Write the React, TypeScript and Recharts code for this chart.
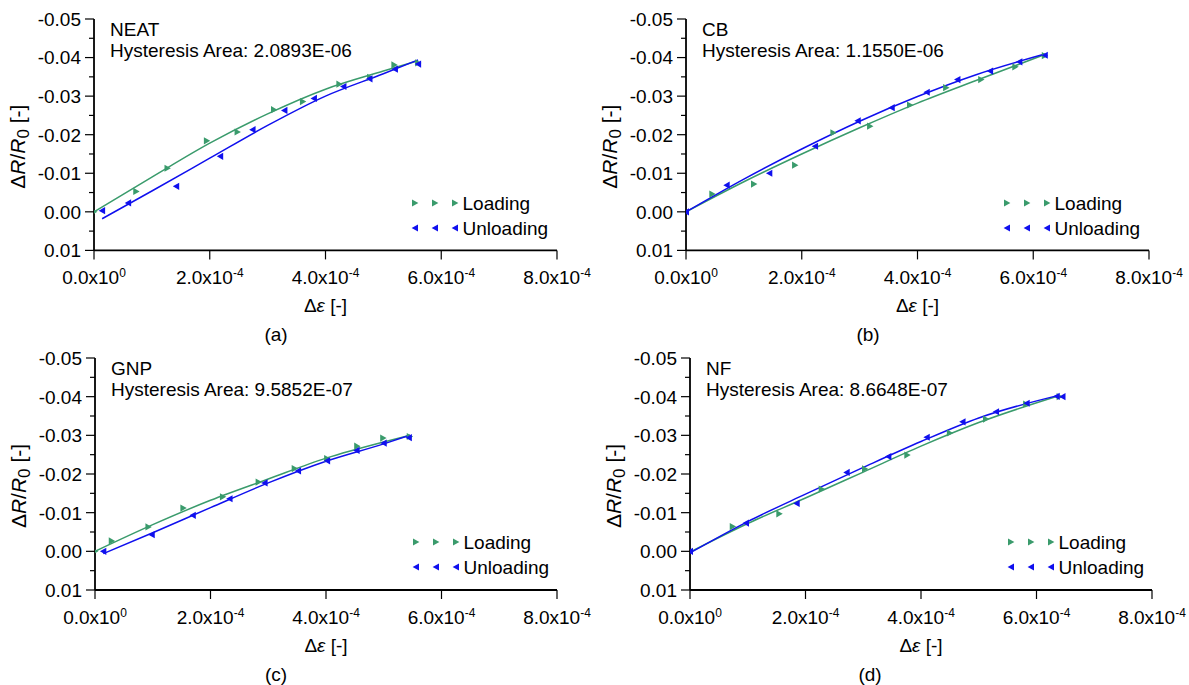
import React from 'react'
import { ComposedChart, Scatter, XAxis, YAxis, Legend } from 'recharts'

type Pt = [number, number]

const GREEN = '#3a9b6c'
const BLUE = '#1010ee'
const FONT = 'Arial, "Liberation Sans", sans-serif'

const xTicks = [0, 2e-4, 4e-4, 6e-4, 8e-4]
const yTicks = [-0.05, -0.045, -0.04, -0.035, -0.03, -0.025, -0.02, -0.015, -0.01, -0.005, 0, 0.005, 0.01]

// NEAT
const neatLoading: Pt[] = [[0, 0], [0.73e-4, -0.0053], [1.27e-4, -0.0113], [1.95e-4, -0.0184], [2.48e-4, -0.0207], [3.11e-4, -0.0265], [3.61e-4, -0.0286], [4.24e-4, -0.0331], [4.77e-4, -0.0349], [5.19e-4, -0.0381], [5.6e-4, -0.0386]]
const neatUnloading: Pt[] = [[5.6e-4, -0.0383], [5.2e-4, -0.037], [4.76e-4, -0.0345], [4.31e-4, -0.0325], [3.8e-4, -0.0294], [3.29e-4, -0.0263], [2.74e-4, -0.0213], [2.18e-4, -0.0144], [1.42e-4, -0.0066], [0.59e-4, -0.0023], [0.14e-4, -0.0003]]
const neatLoadingFit: Pt[] = [[0, 0], [1e-4, -0.009], [2e-4, -0.0178], [3e-4, -0.0254], [4e-4, -0.0318], [5e-4, -0.0365], [5.6e-4, -0.0392]]
const neatUnloadingFit: Pt[] = [[0.14e-4, 0.0018], [1e-4, -0.0054], [2e-4, -0.0139], [3e-4, -0.0224], [4e-4, -0.03], [5e-4, -0.0358], [5.6e-4, -0.0394]]

// CB
const cbLoading: Pt[] = [[0, 0], [0.455e-4, -0.0046], [1.175e-4, -0.0072], [1.884e-4, -0.0121], [2.546e-4, -0.0205], [3.18e-4, -0.0222], [3.87e-4, -0.0277], [4.495e-4, -0.0322], [5.1e-4, -0.0343], [5.69e-4, -0.0376], [6.2e-4, -0.0405]]
const cbUnloading: Pt[] = [[6.2e-4, -0.0406], [5.76e-4, -0.0389], [5.255e-4, -0.0365], [4.69e-4, -0.0343], [4.16e-4, -0.031], [3.555e-4, -0.027], [2.968e-4, -0.0236], [2.23e-4, -0.017], [1.44e-4, -0.01], [0.703e-4, -0.0069], [0, 0]]
const cbLoadingFit: Pt[] = [[0, 0], [1e-4, -0.0078], [2e-4, -0.015], [3e-4, -0.0218], [4e-4, -0.0282], [5e-4, -0.034], [6.2e-4, -0.0408]]
const cbUnloadingFit: Pt[] = [[0, 0], [1e-4, -0.0085], [2e-4, -0.0163], [3e-4, -0.0235], [4e-4, -0.0299], [5e-4, -0.0355], [6.2e-4, -0.0409]]

// GNP
const gnpLoading: Pt[] = [[0, 0], [0.29e-4, -0.0027], [0.925e-4, -0.0063], [1.53e-4, -0.0112], [2.215e-4, -0.0141], [2.833e-4, -0.0179], [3.458e-4, -0.0214], [4.02e-4, -0.024], [4.54e-4, -0.0272], [4.99e-4, -0.0293], [5.45e-4, -0.0297]]
const gnpUnloading: Pt[] = [[5.435e-4, -0.0294], [5.0e-4, -0.028], [4.53e-4, -0.0261], [4.02e-4, -0.0234], [3.516e-4, -0.0208], [2.937e-4, -0.0177], [2.33e-4, -0.0136], [1.694e-4, -0.0093], [0.983e-4, -0.0043], [0.144e-4, 0]]
const gnpLoadingFit: Pt[] = [[0, 0], [1e-4, -0.0069], [2e-4, -0.0132], [3e-4, -0.0187], [4e-4, -0.0241], [5e-4, -0.0283], [5.45e-4, -0.03]]
const gnpUnloadingFit: Pt[] = [[0.144e-4, 0.0006], [1e-4, -0.0048], [2e-4, -0.0113], [3e-4, -0.0177], [4e-4, -0.0233], [5e-4, -0.0278], [5.45e-4, -0.03]]

// NF
const nfLoading: Pt[] = [[0, 0], [0.74e-4, -0.0064], [1.547e-4, -0.0097], [2.28e-4, -0.0161], [3.03e-4, -0.0213], [3.763e-4, -0.0249], [4.5e-4, -0.0306], [5.125e-4, -0.0342], [5.82e-4, -0.0381], [6.4e-4, -0.04]]
const nfUnloading: Pt[] = [[6.45e-4, -0.04], [6.35e-4, -0.0401], [5.83e-4, -0.0383], [5.3e-4, -0.0361], [4.72e-4, -0.0335], [4.1e-4, -0.0295], [3.435e-4, -0.0245], [2.713e-4, -0.0204], [1.847e-4, -0.0124], [0.97e-4, -0.0073], [0, 0]]
const nfLoadingFit: Pt[] = [[0, 0.0002], [1e-4, -0.0072], [2e-4, -0.0138], [3e-4, -0.0205], [4e-4, -0.0272], [5e-4, -0.0333], [6.4e-4, -0.0403]]
const nfUnloadingFit: Pt[] = [[0, 0.0004], [1e-4, -0.0077], [2e-4, -0.0148], [3e-4, -0.0217], [4e-4, -0.0284], [5e-4, -0.0345], [6.4e-4, -0.0404]]

type PanelSpec = {
  x: number; y: number; w: number; h: number
  name: string; area: string; caption: string; captionX: number
  loading: Pt[]; unloading: Pt[]; loadingFit: Pt[]; unloadingFit: Pt[]
}

const panels: PanelSpec[] = [
  { x: 94, y: 19.3, w: 463, h: 231.4, name: 'NEAT', area: '2.0893E-06', caption: '(a)', captionX: 276,
    loading: neatLoading, unloading: neatUnloading, loadingFit: neatLoadingFit, unloadingFit: neatUnloadingFit },
  { x: 686, y: 19.3, w: 463, h: 231.4, name: 'CB', area: '1.1550E-06', caption: '(b)', captionX: 868,
    loading: cbLoading, unloading: cbUnloading, loadingFit: cbLoadingFit, unloadingFit: cbUnloadingFit },
  { x: 95, y: 357.7, w: 462, h: 232, name: 'GNP', area: '9.5852E-07', caption: '(c)', captionX: 276,
    loading: gnpLoading, unloading: gnpUnloading, loadingFit: gnpLoadingFit, unloadingFit: gnpUnloadingFit },
  { x: 690, y: 357.7, w: 462, h: 232, name: 'NF', area: '8.6648E-07', caption: '(d)', captionX: 870,
    loading: nfLoading, unloading: nfUnloading, loadingFit: nfLoadingFit, unloadingFit: nfUnloadingFit },
]

const toPoints = (pts: Pt[]) => pts.map(([x, y]) => ({ x, y }))

// small triangle marker, pointing right for loading and left for unloading
const Tri = ({ cx, cy, dir, fill }: any) => {
  const d = dir === 'right'
    ? `M${cx - 3},${cy - 3.6}L${cx + 3.4},${cy}L${cx - 3},${cy + 3.6}Z`
    : `M${cx + 3},${cy - 3.6}L${cx - 3.4},${cy}L${cx + 3},${cy + 3.6}Z`
  return <path d={d} fill={fill} />
}

const ML = 100
const MT = 20
const MR = 50
const MB = 80

const YTick = (props: any) => {
  const { y, payload } = props
  const v = payload.value
  const major = Math.abs(Math.round(v * 1000)) % 10 === 0
  return (
    <g>
      <line x1={ML - (major ? 9 : 5)} x2={ML} y1={y} y2={y} stroke="#000" strokeWidth={1.2} />
      {major && (
        <text x={ML - 13} y={y} dy="0.36em" textAnchor="end" fontFamily={FONT} fontSize={19} fill="#000">
          {v.toFixed(2)}
        </text>
      )}
    </g>
  )
}

const XTick = (props: any) => {
  const { x, payload, axisY } = props
  const v = payload.value
  const mant = v === 0 ? '0.0' : (v / 1e-4).toFixed(1)
  const exp = v === 0 ? '0' : '-4'
  return (
    <g>
      <line x1={x} x2={x} y1={axisY} y2={axisY + 9} stroke="#000" strokeWidth={1.2} />
      <text x={x} y={axisY + 34} textAnchor="middle" fontFamily={FONT} fontSize={19} fill="#000">
        {mant}x10<tspan dy={-7} fontSize={12}>{exp}</tspan>
      </text>
    </g>
  )
}

const legendItems = [
  { name: 'Loading', color: GREEN, dir: 'right' },
  { name: 'Unloading', color: BLUE, dir: 'left' },
]

const LegendBox = () => (
  <svg width={170} height={50} style={{ display: 'block' }}>
    {legendItems.map((it, i) => (
      <g key={it.name}>
        {[10, 30, 50].map((mx) => (
          <Tri key={mx} cx={mx} cy={12 + i * 25} dir={it.dir} fill={it.color} />
        ))}
        <text x={57.5} y={12 + i * 25} dy="0.36em" fontFamily={FONT} fontSize={19} fill="#000">{it.name}</text>
      </g>
    ))}
  </svg>
)

function Panel({ p }: { p: PanelSpec }) {
  const W = ML + p.w + MR
  const H = MT + p.h + MB
  const axisY = MT + p.h
  return (
    <div style={{ position: 'absolute', left: p.x - ML, top: p.y - MT }}>
      <ComposedChart width={W} height={H} margin={{ top: MT, right: MR, bottom: 0, left: 0 }}>
        <XAxis
          type="number" dataKey="x" domain={[0, 8e-4]} ticks={xTicks} interval={0} height={MB}
          allowDataOverflow axisLine={{ stroke: '#000', strokeWidth: 1.8 }} tickLine={false}
          tick={(t: any) => <XTick {...t} axisY={axisY} />}
          label={{
            content: () => (
              <text x={ML + p.w / 2} y={axisY + 62} textAnchor="middle" fontFamily={FONT} fontSize={19} fill="#000">
                Δ<tspan fontStyle="italic">ε</tspan> [-]
              </text>
            ),
          }}
        />
        <YAxis
          type="number" dataKey="y" domain={[-0.05, 0.01]} reversed ticks={yTicks} interval={0} width={ML}
          allowDataOverflow axisLine={{ stroke: '#000', strokeWidth: 1.8 }} tickLine={false}
          tick={(t: any) => <YTick {...t} />}
          label={{
            content: () => (
              <text transform={`translate(${ML - 69},${MT + p.h / 2 + 12}) rotate(-90)`} textAnchor="middle"
                fontFamily={FONT} fontSize={21} fill="#000">
                Δ<tspan fontStyle="italic">R</tspan>/<tspan fontStyle="italic">R</tspan>
                <tspan dy={4} fontSize={17}>0</tspan><tspan dy={-4}> [-]</tspan>
              </text>
            ),
          }}
        />
        <Scatter name="Loading fit" data={toPoints(p.loadingFit)} legendType="none" isAnimationActive={false}
          line={{ stroke: GREEN, strokeWidth: 1.5 }} lineJointType="monotoneX" shape={() => <g />} />
        <Scatter name="Unloading fit" data={toPoints(p.unloadingFit)} legendType="none" isAnimationActive={false}
          line={{ stroke: BLUE, strokeWidth: 1.5 }} lineJointType="monotoneX" shape={() => <g />} />
        <Scatter name="Loading" data={toPoints(p.loading)} fill={GREEN} isAnimationActive={false}
          shape={(s: any) => <Tri cx={s.cx} cy={s.cy} dir="right" fill={GREEN} />} />
        <Scatter name="Unloading" data={toPoints(p.unloading)} fill={BLUE} isAnimationActive={false}
          shape={(s: any) => <Tri cx={s.cx} cy={s.cy} dir="left" fill={BLUE} />} />
        <Legend layout="vertical" align="center" verticalAlign="middle" content={() => <LegendBox />}
          wrapperStyle={{ left: ML + 311, top: MT + 172, width: 170, height: 50 }} />
      </ComposedChart>
      <svg width={W} height={H + 30} style={{ position: 'absolute', left: 0, top: 0, pointerEvents: 'none' }}>
        <text x={ML + 16} y={MT + 17} fontFamily={FONT} fontSize={19} fill="#000">{p.name}</text>
        <text x={ML + 16} y={MT + 38} fontFamily={FONT} fontSize={19} fill="#000">Hysteresis Area: {p.area}</text>
        <text x={p.captionX - p.x + ML} y={axisY + 91} textAnchor="middle" fontFamily={FONT} fontSize={19} fill="#000">
          {p.caption}
        </text>
      </svg>
    </div>
  )
}

export default function App() {
  return (
    <div style={{ position: 'absolute', left: 0, top: 0, width: 1189, height: 685, background: '#fff', overflow: 'hidden' }}>
      {panels.map((p) => <Panel key={p.name} p={p} />)}
    </div>
  )
}
